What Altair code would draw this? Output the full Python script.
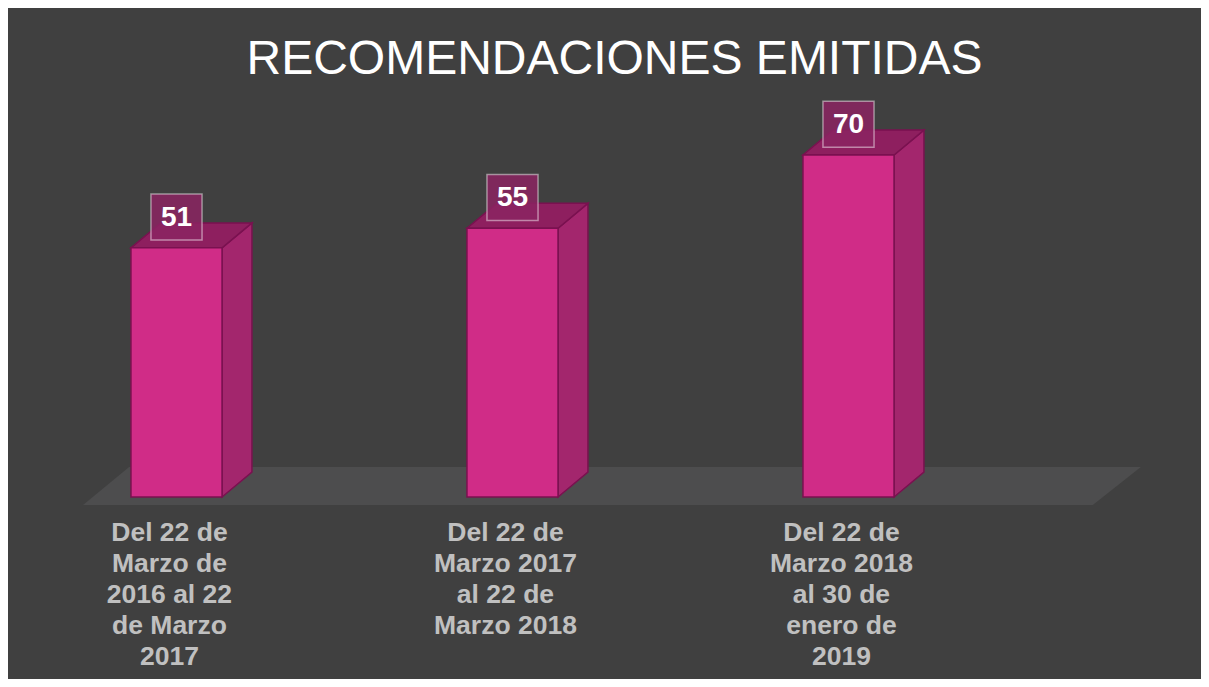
import altair as alt
import pandas as pd

# ---- data ----
categories = [
    "Del 22 de\nMarzo de\n2016 al 22\nde Marzo\n2017",
    "Del 22 de\nMarzo 2017\nal 22 de\nMarzo 2018",
    "Del 22 de\nMarzo 2018\nal 30 de\nenero de\n2019",
]
values = [51, 55, 70]
title_text = "RECOMENDACIONES EMITIDAS"

# ---- styling / geometry (in scale units) ----
HW = 0.1355      # half width of the bar front
DX = 0.089       # depth offset along x
DY = 5.1         # depth offset along y
LBL_DY = 6.3     # value label centre above bar
BOX_HW = 0.076
BOX_HH = 4.7
CAT_Y = -4.7
CAT_DX = -0.021

W, H = 1193, 571
XDOM = [-0.50149, -0.50149 + W / 336.0]
YDOM = [-(H - 389) / 4.886, 389 / 4.886]

xs = alt.Scale(domain=XDOM, nice=False, zero=False)
ys = alt.Scale(domain=YDOM, nice=False, zero=False)

idx = list(range(len(values)))
front = pd.DataFrame({
    "i": idx,
    "x0": [i - HW for i in idx],
    "x1": [i + HW for i in idx],
    "y0": [0] * len(idx),
    "v": values,
    "cat": categories,
    "bx0": [i - BOX_HW for i in idx],
    "bx1": [i + BOX_HW for i in idx],
    "by0": [v + LBL_DY - BOX_HH for v in values],
    "by1": [v + LBL_DY + BOX_HH for v in values],
    "ly": [v + LBL_DY for v in values],
    "cx": [i + CAT_DX for i in idx],
    "cy": [CAT_Y] * len(idx),
})

side_rows, top_rows = [], []
for i, v in zip(idx, values):
    side_rows += [
        {"bar": i, "x": i + HW, "lo": 0, "hi": v},
        {"bar": i, "x": i + HW + DX, "lo": DY, "hi": v + DY},
    ]
    top_rows += [
        {"bar": i, "x": i - HW, "lo": v, "hi": v},
        {"bar": i, "x": i - HW + DX, "lo": v, "hi": v + DY},
        {"bar": i, "x": i + HW, "lo": v, "hi": v + DY},
        {"bar": i, "x": i + HW + DX, "lo": v + DY, "hi": v + DY},
    ]
side = pd.DataFrame(side_rows)
top = pd.DataFrame(top_rows)

n = len(values)
floor = pd.DataFrame([
    {"x": -0.278, "lo": -1.64, "hi": -1.64},
    {"x": -0.141, "lo": -1.64, "hi": 6.14},
    {"x": n - 1 + 0.727, "lo": -1.64, "hi": 6.14},
    {"x": n - 1 + 0.870, "lo": 6.14, "hi": 6.14},
])

STROKE = "#7a1150"

floor_l = alt.Chart(floor).mark_area(color="#4d4d4e").encode(
    x=alt.X("x:Q", scale=xs, axis=None),
    y=alt.Y("lo:Q", scale=ys, axis=None),
    y2="hi:Q",
)

side_l = alt.Chart(side).mark_area(
    color="#a3266d", stroke=STROKE, strokeWidth=1.5
).encode(
    x=alt.X("x:Q", scale=xs, axis=None),
    y=alt.Y("lo:Q", scale=ys, axis=None),
    y2="hi:Q",
    detail="bar:N",
)

top_l = alt.Chart(top).mark_area(
    color="#8e1f5f", stroke=STROKE, strokeWidth=1.5
).encode(
    x=alt.X("x:Q", scale=xs, axis=None),
    y=alt.Y("lo:Q", scale=ys, axis=None),
    y2="hi:Q",
    detail="bar:N",
)

front_l = alt.Chart(front).mark_rect(
    color="#d02c87", stroke=STROKE, strokeWidth=1.5
).encode(
    x=alt.X("x0:Q", scale=xs, axis=None),
    x2="x1:Q",
    y=alt.Y("y0:Q", scale=ys, axis=None),
    y2="v:Q",
)

box_l = alt.Chart(front).mark_rect(
    color="#8b2462", opacity=0.85, stroke="white", strokeOpacity=0.55, strokeWidth=1.5
).encode(
    x=alt.X("bx0:Q", scale=xs, axis=None),
    x2="bx1:Q",
    y=alt.Y("by0:Q", scale=ys, axis=None),
    y2="by1:Q",
)

val_l = alt.Chart(front).mark_text(
    font="Liberation Sans", fontSize=28, fontWeight="bold", color="white",
    baseline="middle", align="center", dy=1,
).encode(
    x=alt.X("i:Q", scale=xs, axis=None),
    y=alt.Y("ly:Q", scale=ys, axis=None),
    text="v:Q",
)

cat_l = alt.Chart(front).mark_text(
    font="Liberation Sans", fontSize=26.5, fontWeight="bold", color="#c0c0c0",
    baseline="top", align="center", lineBreak="\n", lineHeight=31,
).encode(
    x=alt.X("cx:Q", scale=xs, axis=None),
    y=alt.Y("cy:Q", scale=ys, axis=None),
    text="cat:N",
)

chart = alt.layer(floor_l, side_l, top_l, front_l, box_l, val_l, cat_l).properties(
    width=W,
    height=H,
    title=alt.TitleParams(
        title_text, fontSize=48, font="Liberation Sans", fontWeight="normal",
        color="white", anchor="middle", baseline="alphabetic", offset=-22, dx=10,
    ),
    autosize=alt.AutoSizeParams(type="none"),
    padding={"left": 0, "top": 100, "right": 0, "bottom": 0},
).configure(background="#404040").configure_view(stroke=None)

chart.save("out.html", embed_options={"renderer": "svg", "actions": False})
